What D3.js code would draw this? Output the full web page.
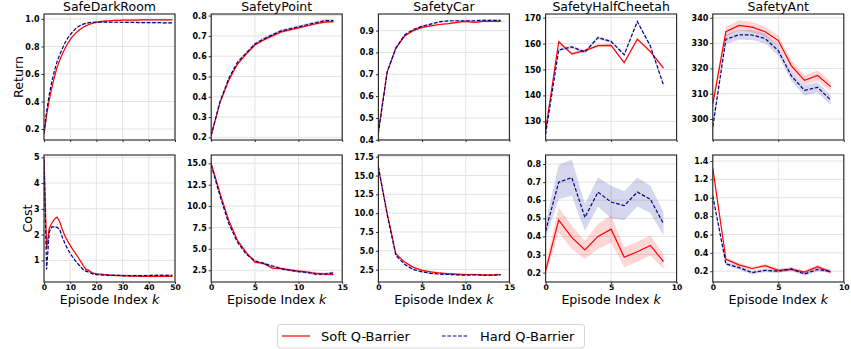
<!DOCTYPE html>
<html>
<head>
<meta charset="utf-8">
<script src="https://cdn.jsdelivr.net/npm/d3@7"></script>
<style>
  body { margin: 0; background: #fff; }
  text { font-family: "DejaVu Sans", sans-serif; }
</style>
</head>
<body>
<div id="chart"></div>
<script>
// ---- labels / ticks
var titles = ["SafeDarkRoom", "SafetyPoint", "SafetyCar", "SafetyHalfCheetah", "SafetyAnt"];
var rowLabels = ["Return", "Cost"];
var legendLabels = ["Soft Q-Barrier", "Hard Q-Barrier"];
var xMax = [50, 15, 15, 10, 10];
var xTicks = [[0, 10, 20, 30, 40, 50], [0, 5, 10, 15], [0, 5, 10, 15], [0, 5, 10], [0, 5, 10]];
var returnTicks = [
    [0.2, 0.4, 0.6, 0.8, 1.0],
    [0.2, 0.3, 0.4, 0.5, 0.6, 0.7, 0.8],
    [0.4, 0.5, 0.6, 0.7, 0.8, 0.9],
    [130, 140, 150, 160, 170],
    [300, 310, 320, 330, 340]
];
var costTicks = [
    [1, 2, 3, 4, 5],
    [2.5, 5.0, 7.5, 10.0, 12.5, 15.0],
    [2.5, 5.0, 7.5, 10.0, 12.5, 15.0, 17.5],
    [0.2, 0.3, 0.4, 0.5, 0.6, 0.7, 0.8],
    [0.2, 0.4, 0.6, 0.8, 1.0, 1.2, 1.4]
];
var returnLimits = [[0.12, 1.036], [0.187, 0.808], [0.399, 0.976], [122.8, 171.4], [291.7, 341.5]];
var costLimits = [[0.16, 5.09], [1.13, 15.97], [0.85, 17.73], [0.148, 0.85], [0.083, 1.465]];
var returnFormat = [".1f", ".1f", ".1f", "d", "d"];
var costFormat = ["d", ".1f", ".1f", ".1f", ".1f"];

// ---- SafeDarkRoom (episodes 0..49)
var darkRoomReturnSoft = [
    0.16, 0.30, 0.41, 0.50, 0.58, 0.65, 0.70, 0.745, 0.785, 0.82,
    0.85, 0.875, 0.895, 0.912, 0.927, 0.94, 0.95, 0.958, 0.965, 0.971,
    0.975, 0.979, 0.982, 0.984, 0.986, 0.987, 0.988, 0.989, 0.99, 0.99,
    0.991, 0.991, 0.991, 0.992, 0.992, 0.992, 0.992, 0.993, 0.993, 0.993,
    0.993, 0.993, 0.993, 0.994, 0.994, 0.994, 0.994, 0.994, 0.994, 0.994];
var darkRoomReturnHard = [
    0.17, 0.33, 0.45, 0.545, 0.625, 0.69, 0.74, 0.785, 0.825, 0.86,
    0.885, 0.908, 0.928, 0.943, 0.954, 0.962, 0.968, 0.972, 0.975, 0.976,
    0.977, 0.977, 0.977, 0.977, 0.977, 0.977, 0.976, 0.976, 0.976, 0.976,
    0.976, 0.975, 0.975, 0.975, 0.975, 0.975, 0.974, 0.974, 0.974, 0.974,
    0.974, 0.973, 0.973, 0.973, 0.973, 0.972, 0.972, 0.972, 0.972, 0.971];
var darkRoomCostSoft = [
    5.0, 1.45, 2.25, 2.45, 2.6, 2.68, 2.5, 2.2, 1.95, 1.75,
    1.58, 1.42, 1.28, 1.12, 0.96, 0.8, 0.65, 0.62, 0.55, 0.5,
    0.48, 0.47, 0.46, 0.45, 0.44, 0.43, 0.42, 0.42, 0.41, 0.41,
    0.4, 0.4, 0.4, 0.39, 0.39, 0.39, 0.39, 0.38, 0.38, 0.38,
    0.38, 0.38, 0.38, 0.38, 0.38, 0.38, 0.38, 0.38, 0.38, 0.38];
var darkRoomCostHard = [
    4.9, 0.65, 2.1, 2.3, 2.3, 2.28, 2.2, 1.9, 1.65, 1.45,
    1.27, 1.12, 0.98, 0.86, 0.75, 0.64, 0.58, 0.55, 0.5, 0.46,
    0.45, 0.44, 0.44, 0.43, 0.43, 0.42, 0.42, 0.42, 0.42, 0.42,
    0.41, 0.41, 0.41, 0.41, 0.41, 0.41, 0.41, 0.41, 0.41, 0.41,
    0.41, 0.42, 0.42, 0.42, 0.43, 0.42, 0.42, 0.42, 0.42, 0.42];

// ---- SafetyPoint (episodes 0..14)
var pointReturnSoft = [0.21, 0.37, 0.48, 0.56, 0.61, 0.655, 0.68, 0.70, 0.72, 0.73, 0.74, 0.75, 0.76, 0.768, 0.77];
var pointReturnHard = [0.21, 0.375, 0.49, 0.57, 0.615, 0.66, 0.685, 0.705, 0.725, 0.735, 0.745, 0.755, 0.765, 0.775, 0.775];
var pointCostSoft = [15.0, 11.5, 8.35, 6.0, 4.6, 3.45, 3.3, 2.75, 2.7, 2.55, 2.4, 2.3, 2.15, 2.05, 2.0];
var pointCostHard = [14.8, 11.2, 8.0, 5.8, 4.4, 3.6, 3.3, 3.0, 2.7, 2.5, 2.35, 2.25, 2.05, 2.05, 2.2];

// ---- SafetyCar (episodes 0..14)
var carReturnSoft = [0.44, 0.71, 0.82, 0.875, 0.9, 0.915, 0.922, 0.928, 0.932, 0.938, 0.942, 0.938, 0.942, 0.942, 0.942];
var carReturnHard = [0.43, 0.71, 0.82, 0.88, 0.905, 0.92, 0.93, 0.94, 0.945, 0.945, 0.945, 0.945, 0.947, 0.947, 0.947];
var carCostSoft = [16.0, 10.0, 4.6, 3.5, 2.8, 2.4, 2.2, 2.05, 1.95, 1.9, 1.85, 1.85, 1.8, 1.8, 1.85];
var carCostHard = [16.2, 9.8, 4.4, 3.2, 2.5, 2.2, 2.0, 1.9, 1.85, 1.8, 1.75, 1.8, 1.75, 1.75, 1.8];

// ---- SafetyHalfCheetah (episodes 0..9)
var cheetahReturnSoft = [126.5, 160.7, 156.0, 157.3, 159.2, 159.3, 152.6, 161.7, 156.9, 150.5];
var cheetahReturnHard = [125.0, 157.5, 158.7, 156.7, 162.3, 160.8, 155.7, 168.5, 159.0, 144.0];
var cheetahCostSoft = [0.21, 0.49, 0.395, 0.325, 0.40, 0.44, 0.285, 0.315, 0.35, 0.26];
var cheetahCostHard = [0.43, 0.70, 0.725, 0.505, 0.645, 0.59, 0.57, 0.645, 0.605, 0.47];
var cheetahCostSoftSpread = [0.03, 0.07, 0.065, 0.05, 0.07, 0.075, 0.055, 0.055, 0.055, 0.04];
var cheetahCostHardSpread = [0.045, 0.095, 0.1, 0.074, 0.08, 0.09, 0.08, 0.08, 0.075, 0.065];

// ---- SafetyAnt (episodes 0..9)
var antReturnSoft = [306.0, 334.5, 337.0, 336.3, 334.5, 331.0, 321.0, 315.3, 317.2, 312.8];
var antReturnHard = [297.0, 331.5, 333.3, 333.2, 331.8, 327.0, 317.0, 311.3, 312.5, 307.5];
var antCostSoft = [1.32, 0.33, 0.27, 0.23, 0.26, 0.21, 0.22, 0.19, 0.25, 0.19];
var antCostHard = [1.02, 0.28, 0.24, 0.185, 0.21, 0.20, 0.225, 0.17, 0.22, 0.20];

// spread of the shaded band (one number = same for every episode)
var returnSpread = [[0.006, 0.006], [0.006, 0.008], [0.005, 0.005], [0.6, 0.6], [2.0, 2.0]];
var costSpread = [[0.04, 0.04], [0.15, 0.15], [0.12, 0.12], [cheetahCostSoftSpread, cheetahCostHardSpread], [0.02, 0.02]];

var returnSeries = [
    [darkRoomReturnSoft, darkRoomReturnHard],
    [pointReturnSoft, pointReturnHard],
    [carReturnSoft, carReturnHard],
    [cheetahReturnSoft, cheetahReturnHard],
    [antReturnSoft, antReturnHard]
];
var costSeries = [
    [darkRoomCostSoft, darkRoomCostHard],
    [pointCostSoft, pointCostHard],
    [carCostSoft, carCostHard],
    [cheetahCostSoft, cheetahCostHard],
    [antCostSoft, antCostHard]
];

// ---- layout
var width = 851, height = 349;
var panelLeft0 = 44, panelStep = 167.2, panelW = 131;
var rows = [{top: 14, bottom: 140}, {top: 155, bottom: 282}];
var lineColors = ["#ff0000", "#00008b"];
var bandColors = ["rgba(255,0,0,0.16)", "rgba(0,0,139,0.16)"];

var svg = d3.select("#chart").append("svg")
    .attr("width", width)
    .attr("height", height)
    .style("background", "#fff");

function drawPanel(col, row) {
    var left = panelLeft0 + col * panelStep;
    var top = rows[row].top, bottom = rows[row].bottom;
    var series = row === 0 ? returnSeries[col] : costSeries[col];
    var spreads = row === 0 ? returnSpread[col] : costSpread[col];
    var limits = row === 0 ? returnLimits[col] : costLimits[col];
    var yTicks = row === 0 ? returnTicks[col] : costTicks[col];
    var yFmt = d3.format(row === 0 ? returnFormat[col] : costFormat[col]);

    var x = d3.scaleLinear().domain([0, xMax[col]]).range([left, left + panelW]);
    var y = d3.scaleLinear().domain(limits).range([bottom, top]);

    var g = svg.append("g");
    var clipId = "clip-" + row + "-" + col;
    g.append("clipPath").attr("id", clipId)
        .append("rect")
        .attr("x", left).attr("y", top)
        .attr("width", panelW).attr("height", bottom - top);

    // grid
    g.append("g").selectAll("line").data(xTicks[col]).enter().append("line")
        .attr("x1", function (d) { return x(d); })
        .attr("x2", function (d) { return x(d); })
        .attr("y1", top).attr("y2", bottom)
        .attr("stroke", "#e3e3e3").attr("stroke-width", 1);
    g.append("g").selectAll("line").data(yTicks).enter().append("line")
        .attr("y1", function (d) { return y(d); })
        .attr("y2", function (d) { return y(d); })
        .attr("x1", left).attr("x2", left + panelW)
        .attr("stroke", "#e3e3e3").attr("stroke-width", 1);

    var plot = g.append("g").attr("clip-path", "url(#" + clipId + ")");

    series.forEach(function (values, s) {
        var sp = spreads[s];
        var spreadAt = function (i) { return Array.isArray(sp) ? sp[i] : sp; };
        var area = d3.area()
            .x(function (d, i) { return x(i); })
            .y0(function (d, i) { return y(d - spreadAt(i)); })
            .y1(function (d, i) { return y(d + spreadAt(i)); });
        plot.append("path")
            .datum(values)
            .attr("d", area)
            .attr("fill", bandColors[s])
            .attr("stroke", "none");
    });

    series.forEach(function (values, s) {
        var line = d3.line()
            .x(function (d, i) { return x(i); })
            .y(function (d) { return y(d); });
        plot.append("path")
            .datum(values)
            .attr("d", line)
            .attr("fill", "none")
            .attr("stroke", lineColors[s])
            .attr("stroke-width", 1.2)
            .attr("stroke-dasharray", s === 1 ? "3.6,1.8" : null);
    });

    // y axis
    var yAxis = d3.axisLeft(y).tickValues(yTicks).tickFormat(yFmt).tickSize(2.5).tickPadding(2);
    var ya = g.append("g").attr("transform", "translate(" + left + ",0)").call(yAxis);
    ya.select(".domain").remove();
    ya.selectAll("text").attr("font-size", 8).attr("font-weight", "bold")
        .attr("font-family", "DejaVu Sans").attr("fill", "#000");
    ya.selectAll("line").attr("stroke", "#333");

    // x axis
    var xAxis = d3.axisBottom(x).tickValues(xTicks[col]).tickFormat(d3.format("d"))
        .tickSize(2).tickPadding(1);
    var xa = g.append("g").attr("transform", "translate(0," + bottom + ")").call(xAxis);
    xa.select(".domain").remove();
    xa.selectAll("text").attr("font-size", 7.6).attr("font-weight", "bold")
        .attr("font-family", "DejaVu Sans").attr("fill", "#000");
    xa.selectAll("line").attr("stroke", "#333");
    if (row === 0) xa.selectAll("text").remove();

    // frame
    g.append("rect")
        .attr("x", left).attr("y", top)
        .attr("width", panelW).attr("height", bottom - top)
        .attr("fill", "none").attr("stroke", "#222").attr("stroke-width", 1.1);

    if (row === 0) {
        g.append("text")
            .attr("x", left + panelW / 2).attr("y", 11)
            .attr("text-anchor", "middle")
            .attr("font-size", 12.5)
            .text(titles[col]);
    } else {
        var xl = g.append("text")
            .attr("x", left + panelW / 2).attr("y", 304)
            .attr("text-anchor", "middle")
            .attr("font-size", 12.6);
        xl.append("tspan").text("Episode Index ");
        xl.append("tspan").attr("font-style", "italic").text("k");
    }
}

for (var r = 0; r < 2; r++) {
    for (var c = 0; c < titles.length; c++) drawPanel(c, r);
}

// row labels
svg.append("text")
    .attr("transform", "translate(23,77) rotate(-90)")
    .attr("text-anchor", "middle").attr("font-size", 12.7)
    .text(rowLabels[0]);
svg.append("text")
    .attr("transform", "translate(31.5,218.5) rotate(-90)")
    .attr("text-anchor", "middle").attr("font-size", 12.7)
    .text(rowLabels[1]);

// legend
var legend = svg.append("g");
legend.append("rect")
    .attr("x", 277.5).attr("y", 324.5).attr("width", 307).attr("height", 23.5)
    .attr("rx", 2.5)
    .attr("fill", "#fff").attr("stroke", "#d6d6d6").attr("stroke-width", 1);
var legendX = [[282, 310, 321], [442, 468, 480]];
legendLabels.forEach(function (label, i) {
    legend.append("line")
        .attr("x1", legendX[i][0]).attr("x2", legendX[i][1])
        .attr("y1", 336).attr("y2", 336)
        .attr("stroke", lineColors[i]).attr("stroke-width", 1.2)
        .attr("stroke-dasharray", i === 1 ? "3.6,1.8" : null);
    legend.append("text")
        .attr("x", legendX[i][2]).attr("y", 340.5)
        .attr("font-size", 13)
        .text(label);
});
</script>
</body>
</html>
